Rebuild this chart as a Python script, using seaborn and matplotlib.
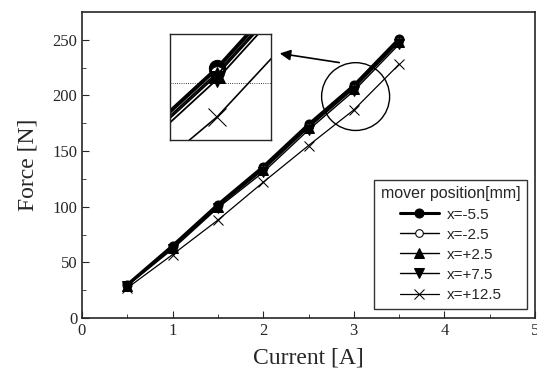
import numpy as np
import pandas as pd
import matplotlib
matplotlib.use("Agg")
import matplotlib.pyplot as plt
from matplotlib.patches import Ellipse, FancyArrowPatch
import seaborn as sns

# ------------------------------
# Data
# ------------------------------
current = [0.5, 1.0, 1.5, 2.0, 2.5, 3.0, 3.5]
force_m5_5 = [30, 65, 102, 136, 174, 209, 251]
force_m2_5 = [30, 64, 101, 134, 172, 207, 249]
force_p2_5 = [29, 63, 100, 133, 171, 206, 248]
force_p7_5 = [29, 62, 99, 131, 169, 204, 246]
force_p12_5 = [27, 57, 88, 122, 155, 187, 228]

labels = ["x=-5.5", "x=-2.5", "x=+2.5", "x=+7.5", "x=+12.5"]
series = [force_m5_5, force_m2_5, force_p2_5, force_p7_5, force_p12_5]

data = pd.DataFrame({
    "Current": current * len(labels),
    "Force": sum(series, []),
    "pos": np.repeat(labels, len(current)),
})

# ------------------------------
# Styles
# ------------------------------
sns.set_style("ticks")
plt.rcParams["font.family"] = ["Liberation Serif", "DejaVu Serif"]

markers = ["o", "o", "^", "v", "x"]
faces = ["black", "white", "black", "black", "black"]
widths = [2.2, 1.0, 1.0, 1.0, 0.9]
sizes = [6.5, 5.5, 6.5, 6.5, 7]

fig = plt.figure(figsize=(5.37, 3.79), dpi=100)
ax = fig.add_axes([82 / 537, 1 - 318 / 379, 453 / 537, 306 / 379])

for lab, m, fc, lw, ms in zip(labels, markers, faces, widths, sizes):
    sns.lineplot(data=data[data["pos"] == lab], x="Current", y="Force",
                 ax=ax, color="black", marker=m, markerfacecolor=fc,
                 markeredgecolor="black", markersize=ms, linewidth=lw,
                 label=lab)

ax.set_xlim(0, 5)
ax.set_ylim(0, 275)
ax.set_xticks([0, 1, 2, 3, 4, 5])
ax.set_yticks([0, 50, 100, 150, 200, 250])
ax.set_xticks(np.arange(0.5, 5, 1), minor=True)
ax.set_yticks(np.arange(25, 275, 50), minor=True)
ax.tick_params(which="both", direction="in", labelsize=12)
ax.tick_params(which="major", length=5)
ax.tick_params(which="minor", length=3)
ax.set_xlabel("Current [A]", fontsize=17, labelpad=6)
ax.set_ylabel("Force [N]", fontsize=17, labelpad=10)
for s in ax.spines.values():
    s.set_linewidth(1.2)

leg = ax.legend(title="mover position[mm]", loc="lower right",
                bbox_to_anchor=(0.99, 0.02), frameon=True, fancybox=False,
                edgecolor="black", prop={"family": "Liberation Sans", "size": 11},
                handlelength=2.6, borderpad=0.45, labelspacing=0.4,
                handletextpad=0.5, borderaxespad=0.2)
leg.get_title().set_fontfamily("Liberation Sans")
leg.get_title().set_fontsize(11.5)
leg.get_frame().set_linewidth(1.0)

# circle around the zoomed region
ax.add_patch(Ellipse((3.02, 199), 68 / 90.6, 68 / 1.116, fill=False,
                     edgecolor="black", linewidth=1.0))

# ------------------------------
# Zoom inset
# ------------------------------
ins = fig.add_axes([170 / 537, 1 - 140 / 379, 101 / 537, 106 / 379])
for lab, m, fc, lw, ms in zip(labels, markers, faces, widths, sizes):
    sns.lineplot(data=data[data["pos"] == lab], x="Current", y="Force",
                 ax=ins, color="black", marker=m, markerfacecolor=fc,
                 markeredgecolor="black", markersize=ms * 1.8, linewidth=lw * 1.3,
                 legend=False)
ins.set_xlim(2.72, 3.32)
ins.set_ylim(176.5, 224.5)
ins.axhline(202.5, color="black", linestyle=":", linewidth=0.6)
ins.set_xticks([])
ins.set_yticks([])
ins.set_xlabel("")
ins.set_ylabel("")
for s in ins.spines.values():
    s.set_linewidth(1.0)

fig.patches.append(FancyArrowPatch(
    (342 / 537, 1 - 63 / 379), (277 / 537, 1 - 53 / 379),
    transform=fig.transFigure, arrowstyle="-|>", mutation_scale=16,
    color="black", linewidth=1.2))

fig.savefig("out.png", dpi=100)
